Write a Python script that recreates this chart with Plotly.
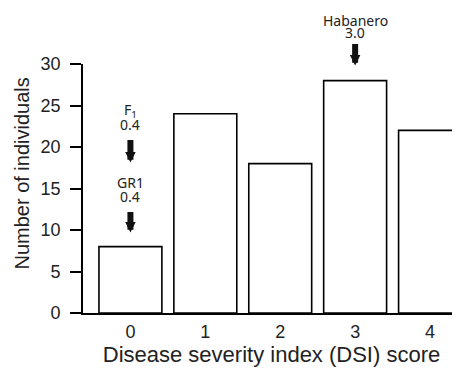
import plotly.graph_objects as go

categories = [0, 1, 2, 3, 4]
counts = [8, 24, 18, 28, 22]
y_ticks = [0, 5, 10, 15, 20, 25, 30]

label_names = ["F<sub>1</sub>", "GR1", "Habanero"]
label_values = ["0.4", "0.4", "3.0"]
label_x = [0, 0, 3]

# layout offsets (pixels above bar top): name line, value line, arrow tail, arrow standoff
label_offsets = [(136, 122, 108, 84), (64, 50.5, 36, 14), (60.5, 48, 38, 15)]

AX_FONT = "Liberation Sans, Arial, sans-serif"

fig = go.Figure()
fig.add_trace(go.Bar(
    x=categories, y=counts, width=0.84,
    marker=dict(color="white", line=dict(color="black", width=1.6)),
))

annots = []
ann_font = dict(family="Noto Sans", size=14, color="#222")
for xc, name, val, (s_name, s_val, tail, stand) in zip(label_x, label_names, label_values, label_offsets):
    yv = counts[categories.index(xc)]
    annots.append(dict(x=xc, y=yv, xref="x", yref="y", text=name, showarrow=False,
                       yanchor="middle", yshift=s_name, font=ann_font))
    annots.append(dict(x=xc, y=yv, xref="x", yref="y", text=val, showarrow=False,
                       yanchor="middle", yshift=s_val, font=ann_font))
    annots.append(dict(x=xc, y=yv, xref="x", yref="y", text="", showarrow=True,
                       ax=0, ay=-tail, axref="pixel", ayref="pixel",
                       standoff=stand, arrowhead=2, arrowwidth=6, arrowsize=0.35,
                       arrowcolor="#111"))

annots.append(dict(x=(22 - 83) / 377, y=0.56, xref="paper", yref="paper",
                   xanchor="center", yanchor="middle", text="Number of individuals",
                   textangle=-90, showarrow=False,
                   font=dict(family=AX_FONT, size=20, color="#222")))

fig.update_layout(
    width=460, height=371,
    margin=dict(l=75, r=8, t=56, b=66),
    plot_bgcolor="white", paper_bgcolor="white",
    showlegend=False,
    font=dict(family=AX_FONT, color="#222"),
    xaxis=dict(range=[-0.633, 4.4], tickvals=categories, ticks="", showline=True,
               linecolor="black", linewidth=1.6, showgrid=False, zeroline=False,
               tickfont=dict(family=AX_FONT, size=18), ticklabelstandoff=2,
               title=dict(text="Disease severity index (DSI) score",
                          font=dict(family=AX_FONT, size=22), standoff=2)),
    yaxis=dict(range=[0, 30], tickvals=y_ticks, ticks="outside", ticklen=11, tickwidth=1.6,
               tickcolor="black", showline=True, linecolor="black", linewidth=1.6,
               showgrid=False, zeroline=False, tickfont=dict(family=AX_FONT, size=18),
               ticklabelstandoff=6),
    annotations=annots,
)

fig.write_html("out.html")
